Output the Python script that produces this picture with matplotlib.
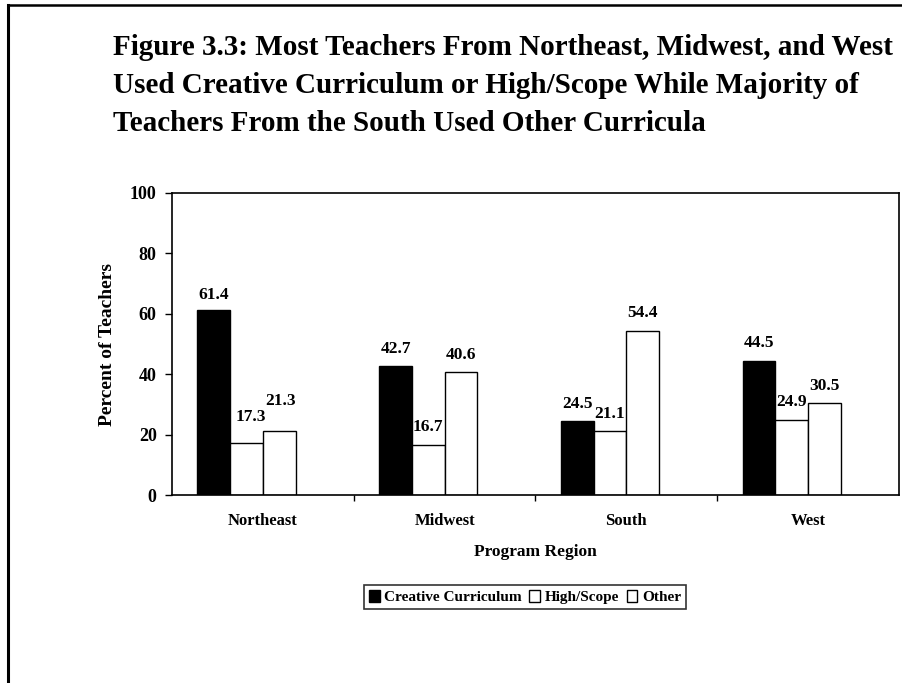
import matplotlib
matplotlib.use("Agg")
import matplotlib.pyplot as plt
from matplotlib.lines import Line2D
import numpy as np

regions = ["Northeast", "Midwest", "South", "West"]
series_names = ["Creative Curriculum", "High/Scope", "Other"]
creative = [61.4, 42.7, 24.5, 44.5]
highscope = [17.3, 16.7, 21.1, 24.9]
other = [21.3, 40.6, 54.4, 30.5]
yticks = [0, 20, 40, 60, 80, 100]

title = ("Figure 3.3: Most Teachers From Northeast, Midwest, and West\n"
         "Used Creative Curriculum or High/Scope While Majority of\n"
         "Teachers From the South Used Other Curricula")

plt.rcParams['font.family'] = ['Liberation Serif', 'DejaVu Serif']
plt.rcParams['font.weight'] = 'bold'

W, H = 903, 683
fig = plt.figure(figsize=(W / 100, H / 100), dpi=100)
fig.patch.set_facecolor('white')

# outer frame (top and left edges)
fig.add_artist(Line2D([8 / W, 1.0], [1 - 5 / H, 1 - 5 / H], color='black', lw=1.8, transform=fig.transFigure))
fig.add_artist(Line2D([8 / W, 8 / W], [0, 1 - 5 / H], color='black', lw=2.2, transform=fig.transFigure))

fig.text(113 / W, 1 - 34 / H, title, ha='left', va='top', fontsize=21, fontweight='bold',
         linespacing=1.52)

ax = fig.add_axes([172 / W, 1 - 495 / H, (899 - 172) / W, (495 - 193) / H])

x = np.arange(len(regions))
w = 0.18
offsets = [-1.5 * w, -0.5 * w, 0.5 * w]
colors = ['black', 'white', 'white']
data = [creative, highscope, other]
bars = []
for vals, off, c, name in zip(data, offsets, colors, series_names):
    b = ax.bar(x + off, vals, width=w, color=c, edgecolor='black', linewidth=1.0, label=name)
    bars.append(b)

# label nudges in points (dx, dy) for crowded labels
nudge = {(0, 0): (0, -2), (0, 1): (3, 6), (0, 2): (1, 9)}
for si, (vals, off) in enumerate(zip(data, offsets)):
    for ci, v in enumerate(vals):
        dx, dy = nudge.get((ci, si), (0, 0))
        ax.annotate(f"{v:.1f}", (x[ci] + off, v), xytext=(dx, 12.5 + dy), textcoords='offset points',
                    ha='center', va='center', fontsize=12.5, fontweight='bold')

ax.set_xlim(-0.5, len(regions) - 0.5)
ax.set_ylim(0, 100)
ax.set_yticks(yticks)
ax.set_yticklabels([str(t) for t in yticks], fontsize=13, fontweight='bold')
ax.set_xticks(x)
ax.set_xticklabels(regions, fontsize=12, fontweight='bold')
ax.set_xticks(np.arange(len(regions) - 1) + 0.5, minor=True)
ax.tick_params(axis='x', which='major', length=0, pad=13)
ax.tick_params(axis='x', which='minor', length=4, direction='out', width=1)
ax.tick_params(axis='y', length=5, direction='out', width=1, pad=6)
for s in ax.spines.values():
    s.set_linewidth(1.2)

ax.set_ylabel("Percent of Teachers", fontsize=14, fontweight='bold', labelpad=10)
ax.set_xlabel("Program Region", fontsize=12.5, fontweight='bold', labelpad=11)

leg = fig.legend(handles=bars, labels=series_names, loc='center', bbox_to_anchor=(525 / W, 1 - 597 / H),
                 ncol=3, frameon=True, fancybox=False, edgecolor='black', fontsize=11,
                 handlelength=0.7, handleheight=0.8, handletextpad=0.3, columnspacing=0.5,
                 borderpad=0.3, borderaxespad=0)
leg.get_frame().set_linewidth(1.2)
for t in leg.get_texts():
    t.set_fontweight('bold')

fig.savefig("out.png", dpi=100, facecolor='white')
